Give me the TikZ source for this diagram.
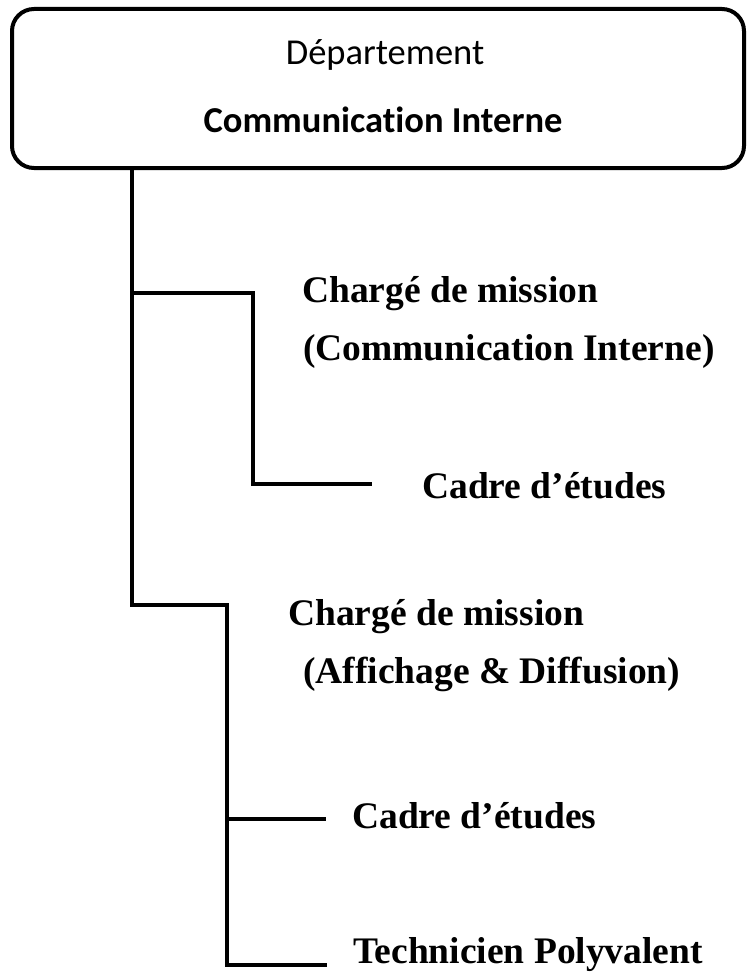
\documentclass[tikz,border=0pt]{standalone}
\usepackage{fontspec}
\setmainfont{Liberation Serif}
\newfontfamily\calib[Ligatures=NoCommon]{Carlito}
\begin{document}
\begin{tikzpicture}[x=1pt,y=-1pt,
  link/.style={line width=4pt,line join=miter},
  boxstyle/.style={draw,line width=4pt,rounded corners=22pt,
    minimum width=732pt,minimum height=159pt,inner sep=0pt},
  headtext/.style={anchor=base,inner sep=0pt,font=\calib\fontsize{36.5}{44}\selectfont},
  roletext/.style={anchor=base west,inner sep=0pt,font=\bfseries\fontsize{37.5}{45}\selectfont}]
\useasboundingbox (0,0) rectangle (747,974);

% department box
\node[boxstyle] (dept) at (378,88.5) {};
\node[headtext] (deptname) at (385,65) {Département};
\node[headtext,font=\calib\bfseries\fontsize{36.5}{44}\selectfont] (deptsub) at (383,132) {Communication Interne};

% roles
\node[roletext] (cm1) at (302,302) {Chargé de mission};
\node[roletext] (cm1b) at (303,360) {(Communication Interne)};
\node[roletext] (ce1) at (422,498) {Cadre d’études};
\node[roletext] (cm2) at (288,625) {Chargé de mission};
\node[roletext] (cm2b) at (303,683) {(Affichage \& Diffusion)};
\node[roletext] (ce2) at (352,828) {Cadre d’études};
\node[roletext] (tp) at (353,963) {Technicien Polyvalent};

% joints of the tree
\coordinate (trunk) at (132,0);
\coordinate (j1) at (132,293);
\coordinate (j1r) at (253,293);
\coordinate (j1d) at (253,484);
\coordinate (e1) at (372,484);
\coordinate (j2) at (132,605);
\coordinate (j2r) at (227,605);
\coordinate (j2m) at (227,819);
\coordinate (e2) at (326,819);
\coordinate (j2d) at (227,965);
\coordinate (e3) at (327,965);

% connectors
\draw[link] (trunk |- dept.south) -- (j2) -- (j2r) -- (j2d) -- (e3);
\draw[link] (j1) -- (j1r) -- (j1d) -- (e1);
\draw[link] (j2m) -- (e2);
\end{tikzpicture}
\end{document}
